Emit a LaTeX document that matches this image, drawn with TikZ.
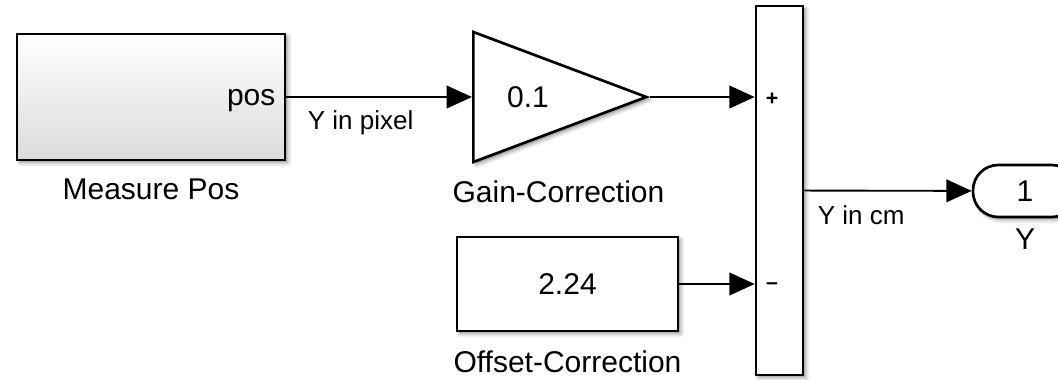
\documentclass[tikz,border=0pt]{standalone}
\usepackage{fontspec}
\setmainfont{Liberation Sans}
\usetikzlibrary{arrows.meta,shapes.geometric,shadows.blur}

\begin{document}
\begin{tikzpicture}[x=0.75pt,y=-0.75pt,>={Triangle[length=19pt,width=17pt]}]
		\tikzstyle{every path}=[line width=1.4pt]
		\tikzstyle{shd}=[blur shadow={shadow xshift=2pt,shadow yshift=-2pt,shadow blur radius=3pt,shadow opacity=45}]
		\tikzstyle{blk}=[draw,line width=2pt,fill=white,shd,
							 font=\fontsize{22.5}{27}\selectfont]
		\tikzstyle{txt}=[inner sep=0pt,font=\fontsize{22.5}{27}\selectfont]
		\tikzstyle{lbl}=[txt,anchor=north]
		\tikzstyle{sig}=[font=\fontsize{19.5}{23}\selectfont]
		\tikzstyle{sgn}=[inner sep=0pt,font=\fontsize{16}{18}\selectfont\bfseries]

	\useasboundingbox (0,0) rectangle (1058,379);

% blocks
	\node [blk,top color=white,bottom color=black!14,
			 minimum width=201pt,minimum height=94.5pt] at (151,97) (measure) {};
	\node [txt,anchor=base east,xshift=-7.5pt,yshift=-6pt] at (measure.east) (pos) {pos};
	\node [blk,isosceles triangle,isosceles triangle stretches,
			 shape border uses incircle=false,inner sep=0pt,anchor=lower side,
			 minimum width=97.5pt,minimum height=129.75pt] at (472,97) (gain) {};
	\node [txt] at (528,97) (gainval) {0.1};
	\node [blk,minimum width=165.75pt,minimum height=70.5pt] at (567.5,284) (offset) {2.24};
	\node [blk,minimum width=35.25pt,minimum height=276.75pt] at (779.5,190.5) (sum) {};
	\node [sgn] at (772,99) (plus) {+};
	\node [sgn] at (772,286) (minus) {\textendash};
	\node [blk,rounded corners=19pt,minimum width=78pt,minimum height=39pt] at (1025,191) (outport) {1};

% names
	\node [lbl,yshift=-12.75pt] at (measure.south) (measurelbl) {Measure Pos};
	\node [lbl] at (558.5,180) (gainlbl) {Gain-Correction};
	\node [lbl,yshift=-12.75pt] at (offset.south) (offsetlbl) {Offset-Correction};
	\node [lbl,yshift=-7.5pt] at (outport.south) (outportlbl) {Y};

	\path[->] (measure) edge node[sig,below=6pt,pos=.4] {Y in pixel} (gain);
	\path[->] (gain.apex) edge (gain.apex -| sum.west);
	\path[->] (offset) edge (offset -| sum.west);
	\path[->] (sum) edge node[sig,below=7pt,pos=.34] {Y in cm} (outport);

\end{tikzpicture}
\end{document}
